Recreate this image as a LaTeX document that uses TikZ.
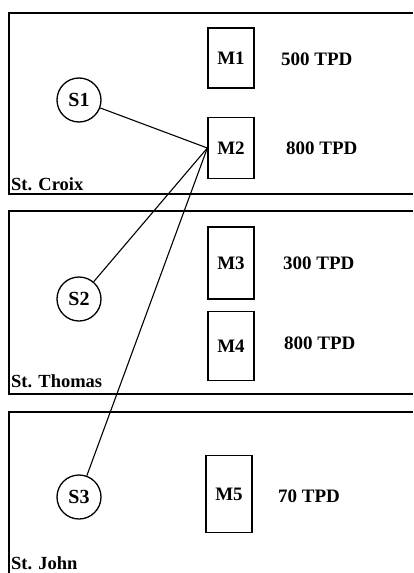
\documentclass[tikz,border=0pt]{standalone}
\usepackage{fontspec}
\setmainfont{Liberation Serif}
\usepackage{tikz}
\usetikzlibrary{positioning}

\tikzset{
  island/.style={line width=1.4pt},
  site/.style={circle,draw,line width=1.3pt,minimum size=44pt,inner sep=0pt,font=\fontsize{20}{20}\bfseries},
  mill/.style={rectangle,draw,line width=1.3pt,minimum width=46pt,inner sep=0pt,font=\fontsize{19}{19}\bfseries},
  tonnage/.style={anchor=west,inner sep=0pt,font=\fontsize{19}{19}\bfseries},
  isle/.style={anchor=base west,font=\fontsize{18.5}{18.5}\bfseries,inner sep=0pt},
  haul/.style={line width=1.1pt}
}

\begin{document}
\begin{tikzpicture}[x=1pt,y=-1pt]
  \useasboundingbox (0,0) rectangle (413,573);
  % islands
  \draw[island] (413,13) -| (9,194) -- (413,194);   % St. Croix
  \draw[island] (413,211) -| (9,394) -- (413,394);  % St. Thomas
  \draw[island] (413,412) -| (9,573);               % St. John
  \node[isle] (lCroix)  at (11,190) {St. Croix};
  \node[isle] (lThomas) at (11,387) {St. Thomas};
  \node[isle] (lJohn)   at (11,569) {St. John};

  % sources
  \node[site] (S1) at (79,100) {S1};
  \node[site] (S2) at (79,299) {S2};
  \node[site] (S3) at (79,497) {S3};

  % mills
  \node[mill,minimum height=60pt] (M1) at (231,58)  {M1};
  \node[mill,minimum height=61pt] (M2) at (231,148) {M2};
  \node[mill,minimum height=72pt] (M3) at (231,263) {M3};
  \node[mill,minimum height=69pt] (M4) at (231,346) {M4};
  \node[mill,minimum height=77pt] (M5) at (229,494) {M5};

  % capacities
  \node[tonnage] (c1) at (281,59)  {500 TPD};
  \node[tonnage] (c2) at (286,148) {800 TPD};
  \node[tonnage] (c3) at (283,263) {300 TPD};
  \node[tonnage] (c4) at (284,343) {800 TPD};
  \node[tonnage] (c5) at (278,496) {70 TPD};

  % haul routes
  \draw[haul] (S1) -- (M2.west);
  \draw[haul] (S2) -- (M2.west);
  \draw[haul] (S3) -- (M2.west);
\end{tikzpicture}
\end{document}
